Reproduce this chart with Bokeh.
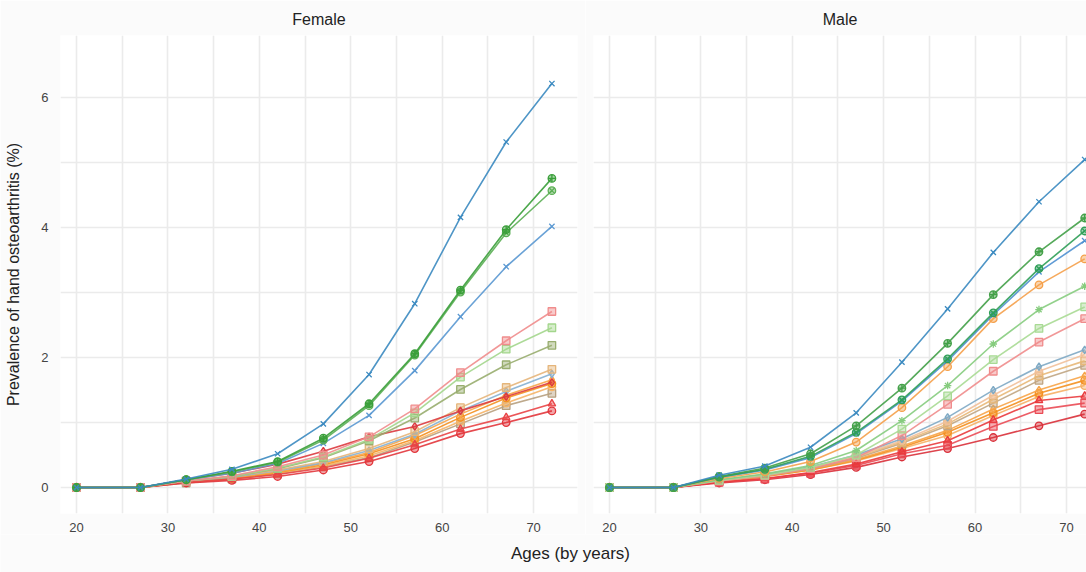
from bokeh.plotting import figure
from bokeh.layouts import column, row
from bokeh.models import Range1d, FixedTicker, Label
from bokeh.embed import file_html
from bokeh.resources import INLINE

# ---------------- data ----------------
ages = [20, 27, 32, 37, 42, 47, 52, 57, 62, 67, 72]
x_ticks = [20, 30, 40, 50, 60, 70]
x_minor = [25, 35, 45, 55, 65]
y_ticks = [0, 2, 4, 6]
y_minor = [1, 3, 5]

# Female
f_blue_x = [0, 0, 0.13, 0.28, 0.52, 0.98, 1.74, 2.83, 4.16, 5.32, 6.22]
f_green_cross = [0, 0, 0.12, 0.25, 0.40, 0.76, 1.29, 2.06, 3.04, 3.97, 4.76]
f_green_circx = [0, 0, 0.12, 0.24, 0.39, 0.73, 1.26, 2.04, 3.01, 3.92, 4.57]
f_blue_x2 = [0, 0, 0.12, 0.22, 0.37, 0.68, 1.11, 1.80, 2.63, 3.40, 4.02]
f_pink_sq = [0, 0, 0.10, 0.18, 0.32, 0.50, 0.78, 1.21, 1.77, 2.26, 2.71]
f_lgreen_sq = [0, 0, 0.10, 0.17, 0.30, 0.47, 0.74, 1.15, 1.70, 2.13, 2.46]
f_olive_sq = [0, 0, 0.10, 0.17, 0.29, 0.46, 0.72, 1.07, 1.51, 1.89, 2.19]
f_tan_sq = [0, 0, 0.09, 0.17, 0.27, 0.40, 0.60, 0.86, 1.23, 1.54, 1.82]
f_bluegrey = [0, 0, 0.09, 0.16, 0.26, 0.38, 0.57, 0.82, 1.18, 1.48, 1.75]
f_orange1 = [0, 0, 0.08, 0.15, 0.24, 0.37, 0.54, 0.80, 1.13, 1.42, 1.66]
f_orange2 = [0, 0, 0.08, 0.14, 0.23, 0.35, 0.52, 0.75, 1.08, 1.38, 1.60]
f_orange3 = [0, 0, 0.08, 0.14, 0.22, 0.33, 0.49, 0.72, 1.02, 1.30, 1.55]
f_greybrown = [0, 0, 0.07, 0.13, 0.21, 0.32, 0.46, 0.70, 0.98, 1.26, 1.45]
f_red_diam = [0, 0, 0.12, 0.22, 0.36, 0.56, 0.78, 0.94, 1.18, 1.40, 1.62]
f_red_tri = [0, 0, 0.08, 0.13, 0.20, 0.30, 0.45, 0.66, 0.90, 1.08, 1.29]
f_red_circ = [0, 0, 0.07, 0.11, 0.17, 0.27, 0.40, 0.60, 0.83, 1.00, 1.18]

# Male
m_blue_x = [0, 0, 0.19, 0.33, 0.62, 1.15, 1.93, 2.75, 3.62, 4.40, 5.05]
m_green_cross = [0, 0, 0.17, 0.30, 0.52, 0.95, 1.53, 2.22, 2.97, 3.63, 4.15]
m_green_circx = [0, 0, 0.16, 0.28, 0.48, 0.85, 1.35, 1.98, 2.69, 3.37, 3.95]
m_blue_x2 = [0, 0, 0.16, 0.27, 0.46, 0.83, 1.33, 1.95, 2.66, 3.32, 3.80]
m_orange_circ = [0, 0, 0.14, 0.24, 0.40, 0.70, 1.23, 1.86, 2.60, 3.12, 3.52]
m_lgreen_star = [0, 0, 0.12, 0.21, 0.34, 0.57, 1.03, 1.57, 2.21, 2.74, 3.10]
m_lgreen_sq = [0, 0, 0.11, 0.19, 0.31, 0.50, 0.90, 1.41, 1.97, 2.45, 2.78]
m_pink_sq = [0, 0, 0.10, 0.18, 0.29, 0.46, 0.80, 1.28, 1.79, 2.24, 2.60]
m_bluegrey = [0, 0, 0.11, 0.20, 0.32, 0.50, 0.75, 1.08, 1.50, 1.86, 2.12]
m_peach = [0, 0, 0.10, 0.19, 0.31, 0.48, 0.72, 1.02, 1.42, 1.79, 2.05]
m_tan_sq = [0, 0, 0.10, 0.19, 0.30, 0.47, 0.70, 0.98, 1.36, 1.72, 1.95]
m_greybrown = [0, 0, 0.10, 0.18, 0.29, 0.45, 0.68, 0.95, 1.30, 1.65, 1.88]
m_orange1 = [0, 0, 0.09, 0.18, 0.28, 0.43, 0.64, 0.88, 1.21, 1.50, 1.72]
m_orange2 = [0, 0, 0.09, 0.17, 0.27, 0.42, 0.62, 0.85, 1.15, 1.45, 1.65]
m_orange3 = [0, 0, 0.09, 0.17, 0.27, 0.41, 0.60, 0.80, 1.11, 1.40, 1.57]
m_red_tri = [0, 0, 0.08, 0.14, 0.23, 0.36, 0.55, 0.72, 1.04, 1.34, 1.41]
m_red_sq = [0, 0, 0.08, 0.13, 0.22, 0.34, 0.52, 0.65, 0.94, 1.20, 1.30]
m_red_circ = [0, 0, 0.07, 0.12, 0.20, 0.31, 0.47, 0.60, 0.77, 0.95, 1.13]

# ---------------- styles ----------------
female = [
    (f_greybrown, "#b7a07f", "square"),
    (f_orange3, "#f5b467", "circle"),
    (f_orange2, "#f4901f", "circle"),
    (f_orange1, "#f7a448", "diamond"),
    (f_bluegrey, "#86b0d2", "diamond"),
    (f_tan_sq, "#e5b57a", "square"),
    (f_red_circ, "#e2363c", "circle"),
    (f_red_tri, "#e94446", "triangle"),
    (f_red_diam, "#dc3a3f", "diamond"),
    (f_olive_sq, "#98ad6e", "square"),
    (f_lgreen_sq, "#a3d68c", "square"),
    (f_pink_sq, "#f08c8c", "square"),
    (f_blue_x2, "#5a98d2", "x"),
    (f_green_circx, "#5caf55", "circle_x"),
    (f_green_cross, "#3a9f3a", "circle_cross"),
    (f_blue_x, "#3b8ac0", "x"),
]
male = [
    (m_orange3, "#f6b066", "circle"),
    (m_orange2, "#f4901f", "circle"),
    (m_orange1, "#f7a448", "diamond"),
    (m_greybrown, "#c0a582", "square"),
    (m_tan_sq, "#e8b878", "square"),
    (m_peach, "#f1c09a", "hex"),
    (m_bluegrey, "#7ea9c4", "diamond"),
    (m_red_circ, "#d9303a", "circle"),
    (m_red_sq, "#ea4b55", "square"),
    (m_red_tri, "#e93a3d", "triangle"),
    (m_pink_sq, "#f08c8c", "square"),
    (m_lgreen_sq, "#a8da94", "square"),
    (m_lgreen_star, "#86cc7e", "asterisk"),
    (m_orange_circ, "#f5a04a", "circle"),
    (m_blue_x2, "#4f90d0", "x"),
    (m_green_circx, "#2f9f58", "circle_x"),
    (m_green_cross, "#43a048", "circle_cross"),
    (m_blue_x, "#3b8ac0", "x"),
]

FONT = "Liberation Sans"
GRID = "#ebebeb"
BG = "#fbfbfb"


def panel(title, series, frame_w, x_end, b_left, b_right, show_y, t_off):
    p = figure(frame_width=frame_w, frame_height=478,
               x_range=Range1d(18.25, x_end), y_range=Range1d(-0.4, 6.96),
               output_backend="svg", toolbar_location=None,
               min_border_left=b_left, min_border_right=b_right,
               min_border_top=35, min_border_bottom=19,
               background_fill_color="white", border_fill_color=BG,
               outline_line_color=None, title=title)
    p.title.align = "center"
    p.title.text_font = FONT
    p.title.text_font_size = "16px"
    p.title.text_font_style = "normal"
    p.title.text_color = "#222222"
    p.title.standoff = 15
    p.title.offset = t_off

    xt = FixedTicker(ticks=x_ticks, minor_ticks=x_minor)
    yt = FixedTicker(ticks=y_ticks, minor_ticks=y_minor)
    p.xaxis.ticker = xt
    p.yaxis.ticker = yt
    p.xgrid.ticker = xt
    p.ygrid.ticker = yt
    for g in (p.xgrid, p.ygrid):
        g.grid_line_color = GRID
        g.grid_line_width = 1.6
        g.minor_grid_line_color = GRID
        g.minor_grid_line_width = 1.6

    for ax in (p.xaxis, p.yaxis):
        ax.axis_line_color = None
        ax.major_tick_line_color = None
        ax.minor_tick_line_color = None
        ax.major_label_text_font = FONT
        ax.major_label_text_font_size = "13px"
        ax.major_label_text_color = "#444444"
        ax.major_label_standoff = 6
    p.xaxis.major_label_standoff = 3

    if show_y:
        p.yaxis.axis_label = "Prevalence of hand osteoarthritis (%)"
        p.yaxis.axis_label_text_font = FONT
        p.yaxis.axis_label_text_font_size = "16px"
        p.yaxis.axis_label_text_font_style = "normal"
        p.yaxis.axis_label_text_color = "#222222"
        p.yaxis.axis_label_standoff = 16
    else:
        p.yaxis.visible = False

    for vals, color, marker in series:
        p.line(ages, vals, line_color=color, line_width=1.6, line_alpha=0.9)
        p.scatter(ages, vals, marker=marker, size=7.5, line_color=color,
                  fill_color=color, fill_alpha=0.45, line_width=1.3)
    return p


pf = panel("Female", female, 517, 74.8, 60, 8, True, 7)
pm = panel("Male", male, 493, 72.2, 8, 0, False, 8)

plab = figure(width=1086, height=40, x_range=Range1d(0, 1086), y_range=Range1d(0, 40),
              output_backend="svg", toolbar_location=None,
              min_border_left=0, min_border_right=0, min_border_top=0, min_border_bottom=0,
              background_fill_color=BG, border_fill_color=BG, outline_line_color=None)
plab.axis.visible = False
plab.grid.visible = False
plab.add_layout(Label(x=570, y=21, text="Ages (by years)", text_align="center",
                      text_baseline="middle", text_font=FONT, text_font_size="17px",
                      text_color="#222222"))

layout = column(row(pf, pm), plab)
open("out.html", "w").write(file_html(layout, INLINE))
